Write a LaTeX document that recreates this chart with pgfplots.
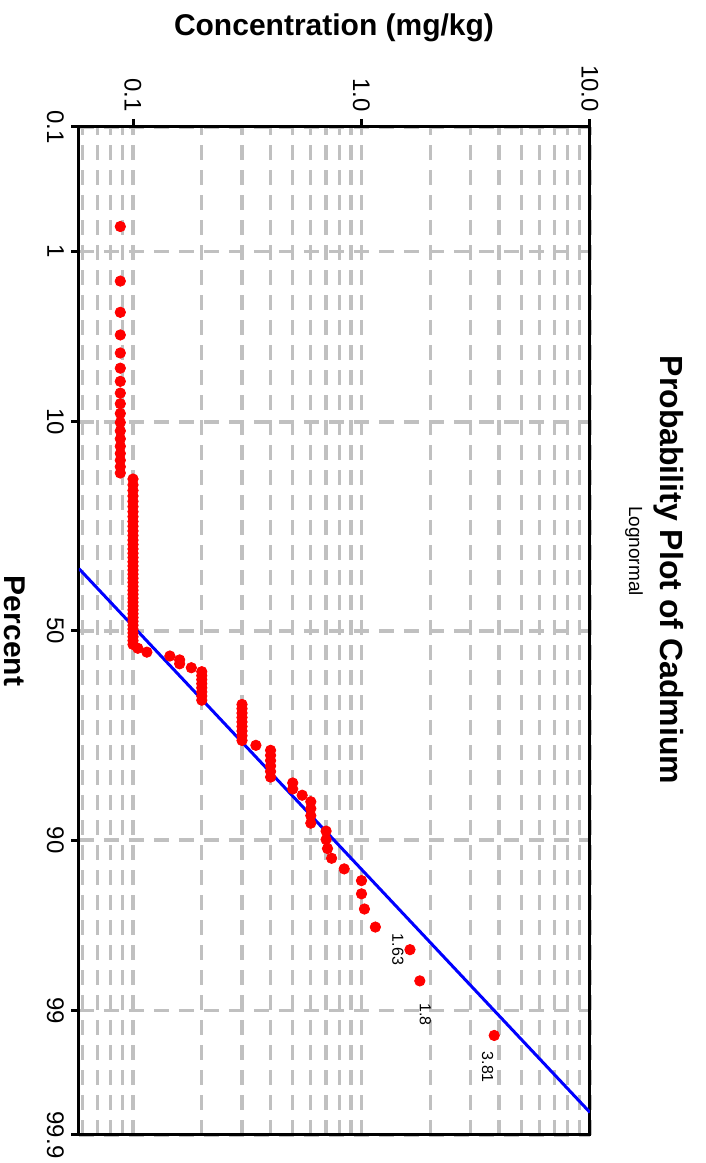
\documentclass[border=0pt]{standalone}
\usepackage{fontspec}
\setmainfont{Liberation Sans}
\usepackage{graphicx}
\usepackage{pgfplots}
\pgfplotsset{compat=1.18}
\usepackage{pgfplotstable}
\definecolor{gridgray}{RGB}{192,192,192}
\definecolor{ptred}{RGB}{255,0,0}
\definecolor{fitblue}{RGB}{0,0,255}
% inverse of the standard normal CDF (probability-scale transform)
\pgfmathdeclarefunction{invnorm}{1}{%
  \pgfmathparse{(#1<0.5) ? #1 : 1-#1}\edef\invq{\pgfmathresult}%
  \pgfmathparse{sqrt(-2*ln(\invq))}\edef\invt{\pgfmathresult}%
  \pgfmathparse{((#1<0.5) ? -1 : 1)*(\invt-(2.515517+0.802853*\invt+0.010328*\invt*\invt)/(1+1.432788*\invt+0.189269*\invt*\invt+0.001308*\invt*\invt*\invt))}%
}
% rank (1..106) and concentration (mg/kg)
\pgfplotstableread{
rank conc
1 0.088
2 0.088
3 0.088
4 0.088
5 0.088
6 0.088
7 0.088
8 0.088
9 0.088
10 0.088
11 0.088
12 0.088
13 0.088
14 0.088
15 0.088
16 0.088
17 0.088
18 0.088
19 0.1
20 0.1
21 0.1
22 0.1
23 0.1
24 0.1
25 0.1
26 0.1
27 0.1
28 0.1
29 0.1
30 0.1
31 0.1
32 0.1
33 0.1
34 0.1
35 0.1
36 0.1
37 0.1
38 0.1
39 0.1
40 0.1
41 0.1
42 0.1
43 0.1
44 0.1
45 0.1
46 0.1
47 0.1
48 0.1
49 0.1
50 0.1
51 0.1
52 0.1
53 0.1
54 0.1
55 0.1
56 0.1
57 0.1
58 0.105
59 0.115
60 0.145
61 0.16
62 0.16
63 0.18
64 0.2
65 0.2
66 0.2
67 0.2
68 0.2
69 0.2
70 0.2
71 0.2
72 0.3
73 0.3
74 0.3
75 0.3
76 0.3
77 0.3
78 0.3
79 0.3
80 0.3
81 0.345
82 0.4
83 0.4
84 0.4
85 0.4
86 0.4
87 0.4
88 0.5
89 0.5
90 0.55
91 0.6
92 0.6
93 0.6
94 0.6
95 0.7
96 0.7
97 0.71
98 0.74
99 0.84
100 1.0
101 1.0
102 1.03
103 1.15
104 1.63
105 1.8
106 3.81
}\cadmium
\begin{document}
\begin{tikzpicture}
\useasboundingbox (-39.5pt,-14pt) rectangle (313.5pt,567.5pt);
\begin{axis}[
  scale only axis, width=255.5pt, height=504pt,
  at={(0pt,0pt)}, anchor=south west,
  xmode=log, xmin=0.05803, xmax=10,
  ymin=-3.0902, ymax=3.0902,
  xtick={0.1,1,10}, xticklabels={0.1,1.0,10.0},
  minor xtick={0.06,0.07,0.08,0.09,0.2,0.3,0.4,0.5,0.6,0.7,0.8,0.9,2,3,4,5,6,7,8,9},
  ytick={-3.0902,-2.3263,-1.2816,0,1.2816,2.3263,3.0902},
  yticklabels={99.9,99,90,50,10,1,0.1},
  xtick pos=right, xticklabel pos=right,
  ytick pos=left, yticklabel pos=left,
  tick align=outside, major tick length=4pt, minor tick length=0pt,
  xmajorgrids, xminorgrids, ymajorgrids,
  major grid style={gridgray, line width=1.6pt, dash pattern=on 7.5pt off 5pt},
  minor grid style={gridgray, line width=1.6pt, dash pattern=on 7.5pt off 5pt},
  axis line style={black, line width=1.5pt},
  major tick style={black, line width=1.5pt},
  xticklabel style={rotate=-90, anchor=east, font=\fontsize{12}{14}\selectfont},
  yticklabel style={rotate=-90, anchor=north, font=\fontsize{12}{14}\selectfont},
]
\addplot[only marks, mark=*, mark size=2.6pt, color=ptred, mark options={draw=ptred, fill=ptred}]
  table[x=conc, y expr={-invnorm((\thisrow{rank}-0.3)/106.4)}] {\cadmium};
\addplot[fitblue, line width=1.5pt, no marks] coordinates {(0.05803,0.382) (10,-2.952)};
\node[rotate=-90, font=\fontsize{8}{10}\selectfont, yshift=-6pt] at (axis cs:1.63,-1.952) {1.63};
\node[rotate=-90, font=\fontsize{8}{10}\selectfont, xshift=17pt, yshift=2.75pt] at (axis cs:1.8,-2.144) {1.8};
\node[rotate=-90, font=\fontsize{8}{10}\selectfont, xshift=16pt, yshift=-3.25pt] at (axis cs:3.81,-2.479) {3.81};
\end{axis}
\node[rotate=-90, font=\bfseries\fontsize{16}{19}\selectfont] at (295pt,282.5pt) {Probability Plot of Cadmium};
\node[rotate=-90, font=\fontsize{9.5}{11}\selectfont] at (277.5pt,292pt) {Lognormal};
\node[font=\bfseries\fontsize{15}{18}\selectfont] at (127.5pt,553.5pt) {Concentration (mg/kg)};
\node[rotate=-90, font=\bfseries\fontsize{15}{18}\selectfont] at (-32pt,252pt) {Percent};
\end{tikzpicture}
\end{document}
